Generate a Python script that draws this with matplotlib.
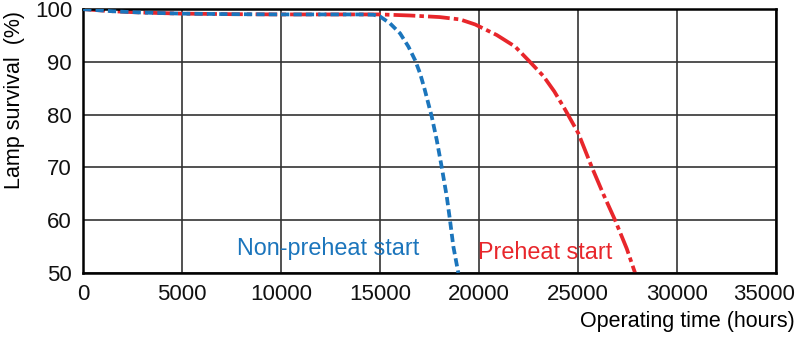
import matplotlib
matplotlib.use("Agg")
import matplotlib.pyplot as plt
from matplotlib.transforms import ScaledTranslation

plt.rcParams['font.family'] = ['Liberation Sans', 'DejaVu Sans']

# Data
non_preheat_hours = [0, 1500, 3000, 5000, 7500, 10000, 14000, 14660, 15000,
                     15500, 16010, 16430, 16770, 17020, 17250, 17610, 17860,
                     18110, 18370, 18530, 18700, 18950]
non_preheat_surv = [100, 99.6, 99.35, 99.15, 99.05, 99.0, 99.0, 98.95, 98.6,
                    97.3, 95.4, 92.9, 90.3, 87.8, 84.8, 79.6, 75.2,
                    70.1, 64.4, 60.0, 55.0, 50.0]

preheat_hours = [0, 1500, 3000, 5000, 7500, 10000, 15000, 16500, 18000,
                 19040, 19800, 20890, 21820, 22570, 23250, 23800, 24340,
                 25010, 25690, 26280, 26870, 27460, 27880]
preheat_surv = [100, 99.6, 99.35, 99.15, 99.05, 99.0, 99.0, 98.8, 98.5,
                98.05, 97.1, 95.1, 92.9, 90.0, 87.3, 84.4, 81.0,
                76.5, 70.1, 64.9, 60.0, 54.6, 50.0]

x_ticks = [0, 5000, 10000, 15000, 20000, 25000, 30000, 35000]
y_ticks = [50, 60, 70, 80, 90, 100]

blue = '#1b75bc'
red = '#e8262b'

fig = plt.figure(figsize=(8, 3.39), dpi=100)
ax = fig.add_axes([0.104, 0.195, 0.866, 0.778])

ax.plot(non_preheat_hours, non_preheat_surv, color=blue, lw=2.7,
        dashes=(2.2, 1.1), zorder=3)
ax.plot(preheat_hours, preheat_surv, color=red, lw=2.7,
        dashes=(5.8, 1.1, 1.2, 1.1), zorder=2)

ax.set_xlim(0, 35000)
ax.set_ylim(50, 100)
ax.set_xticks(x_ticks)
ax.set_yticks(y_ticks)
ax.grid(True, color='#333333', lw=1.2)
ax.set_axisbelow(True)
ax.tick_params(length=0, labelsize=16, pad=8, colors='#111111')
for s in ax.spines.values():
    s.set_linewidth(1.8)
    s.set_color('black')

# shift last x tick label left so it fits
labels = ax.get_xticklabels()
labels[-1].set_transform(labels[-1].get_transform() +
                         ScaledTranslation(-12/100, 0, fig.dpi_scale_trans))

fig.text(0.018, 0.705, 'Lamp survival  (%)', fontsize=15.5, rotation=90,
         ha='center', va='center')
fig.text(0.994, 0.035, 'Operating time (hours)', fontsize=15.5, ha='right',
         va='baseline')

ax.text(7780, 53.4, 'Non-preheat start', color=blue, fontsize=16.8,
        va='baseline', ha='left')
ax.text(19950, 52.65, 'Preheat start', color=red, fontsize=16.8,
        va='baseline', ha='left')

fig.savefig('out.png', dpi=100)
